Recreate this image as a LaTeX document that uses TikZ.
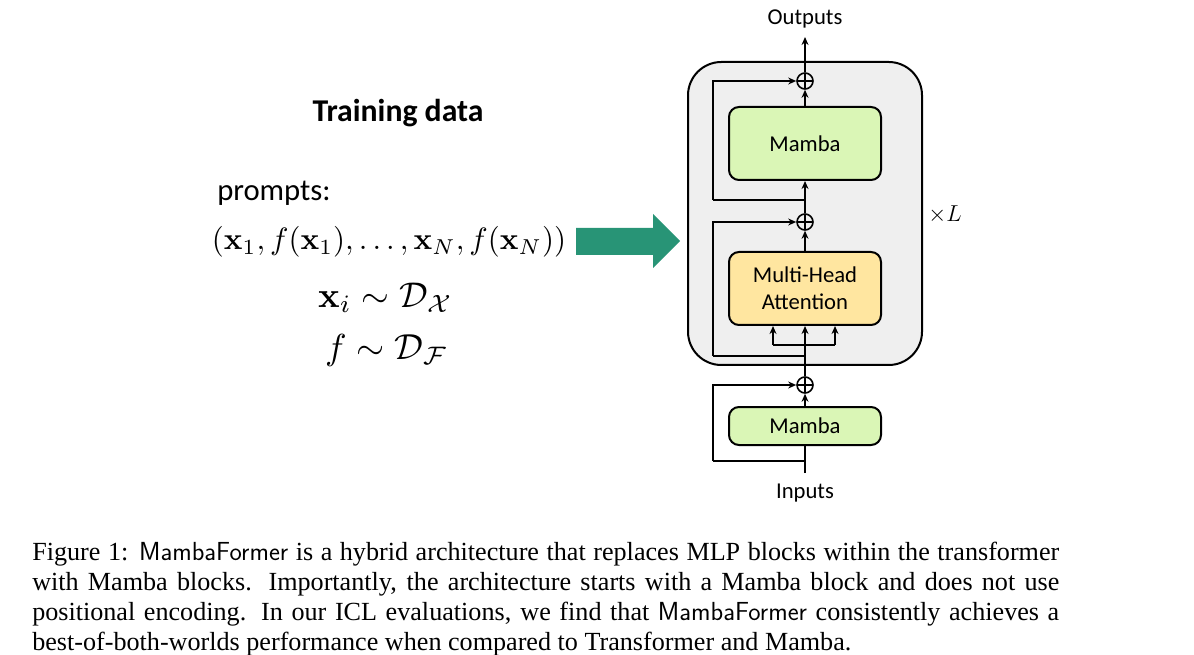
\documentclass[tikz,border=0pt]{standalone}
\usepackage[no-math]{fontspec}
\usepackage{amsmath,amssymb,graphicx}
\setmainfont{Liberation Serif}
\newfontfamily\calibri{Carlito}
\usetikzlibrary{arrows.meta,calc}
\definecolor{boxgray}{RGB}{239,239,239}
\definecolor{mambagreen}{RGB}{218,246,182}
\definecolor{attnyellow}{RGB}{255,230,160}
\definecolor{arrowteal}{RGB}{40,148,118}
\begin{document}
\begin{tikzpicture}[x=0.75pt,y=-0.75pt,
  conn/.style={line width=1.5pt},
  arr/.style={conn,-{Stealth[length=6pt,width=5.2pt]}},
  blk/.style={draw,line width=1.5pt,rounded corners=7.5pt,minimum width=114pt,inner sep=0pt,font=\calibri\fontsize{17}{20.5}\selectfont,align=center},
  addnode/.style={circle,draw,line width=1.2pt,minimum size=12pt,inner sep=0pt,
    path picture={\draw[line width=1.2pt] (path picture bounding box.north) -- (path picture bounding box.south) (path picture bounding box.west) -- (path picture bounding box.east);}},
  lbl/.style={font=\calibri\fontsize{17}{20}\selectfont,inner sep=0pt}
]
\useasboundingbox (0,0) rectangle (1194,655);
% outer box
\node[draw,line width=1.5pt,fill=boxgray,rounded corners=25pt,minimum width=175.5pt,minimum height=227.25pt,inner sep=0pt] (outer) at (805,213.5) {};
% blocks
\node[blk,fill=mambagreen,minimum height=54.75pt] (mamba1) at (805,143.5) {Mamba};
\node[blk,fill=attnyellow,minimum height=54.75pt] (mha) at (805,288.5) {Multi-Head\\Attention};
\node[blk,fill=mambagreen,minimum height=28.5pt] (mamba0) at (805,426) {Mamba};
\node[addnode] (p1) at (805,81) {};
\node[addnode] (p2) at (805,222) {};
\node[addnode] (p3) at (805,385) {};
\node[lbl] (outtxt) at (805,19) {Outputs};
\node[lbl] (intxt) at (805,493) {Inputs};
\node[inner sep=0pt,font=\fontsize{18}{20}\selectfont] (times) at (945,215) {$\times L$};
% coordinates
\coordinate (intop) at (805,473);
\coordinate (tout) at (805,37);
\coordinate (b0) at (805,461);
\coordinate (b0l) at (713,461);
\coordinate (b1) at (805,356);
\coordinate (b1l) at (713,356);
\coordinate (b2) at (805,200);
\coordinate (b2l) at (713,200);
\coordinate (s) at (805,345);
\coordinate (sl) at (773,345);
\coordinate (sr) at (835,345);
% connectors
\draw[conn] (intop) -- (mamba0.south);
\draw[conn] (b0) -- (b0l);
\draw[arr] (b0l) |- (p3.west);
\draw[arr] (mamba0.north) -- (p3.south);
\draw[conn] (p3.north) -- (s);
\draw[conn] (sl) -- (sr);
\draw[arr] (sl) -- (sl |- mha.south);
\draw[arr] (s) -- (mha.south);
\draw[arr] (sr) -- (sr |- mha.south);
\draw[conn] (b1) -- (b1l);
\draw[arr] (b1l) |- (p2.west);
\draw[arr] (mha.north) -- (p2.south);
\draw[arr] (p2.north) -- (mamba1.south);
\draw[conn] (b2) -- (b2l);
\draw[arr] (b2l) |- (p1.west);
\draw[arr] (mamba1.north) -- (p1.south);
\draw[arr] (p1.north) -- (tout);
% big arrow
\fill[arrowteal] (576,228) -- (653,228) -- (653,214) -- (680,241) -- (653,268) -- (653,255) -- (576,255) -- cycle;
% left texts
\node[font=\calibri\bfseries\fontsize{23.8}{27}\selectfont,inner sep=0pt] (title) at (398,113) {Training data};
\node[font=\calibri\fontsize{23}{26}\selectfont,inner sep=0pt,anchor=west] (prompts) at (217,193) {prompts:};
\node[inner sep=0pt] (seq) at (389,242) {\resizebox{265.5pt}{!}{$(\mathbf{x}_1, f(\mathbf{x}_1), \ldots, \mathbf{x}_N, f(\mathbf{x}_N))$}};
\node[inner sep=0pt] (xdist) at (385.5,298) {\resizebox{101pt}{!}{$\mathbf{x}_i \sim \mathcal{D}_{\mathcal{X}}$}};
\node[inner sep=0pt] (fdist) at (386.5,350) {\resizebox{92pt}{!}{$f \sim \mathcal{D}_{\mathcal{F}}$}};
% caption
\node[inner sep=0pt,anchor=base west] (cap) at (32,560) {\parbox[t]{770.25pt}{\fontsize{19.6}{22.5}\selectfont
Figure 1: \textsf{MambaFormer} is a hybrid architecture that replaces MLP blocks within the transformer\linebreak
with Mamba blocks. Importantly, the architecture starts with a Mamba block and does not use\linebreak
positional encoding. In our ICL evaluations, we find that \textsf{MambaFormer} consistently achieves a\linebreak
best-of-both-worlds performance when compared to Transformer and Mamba.}};
\end{tikzpicture}
\end{document}
